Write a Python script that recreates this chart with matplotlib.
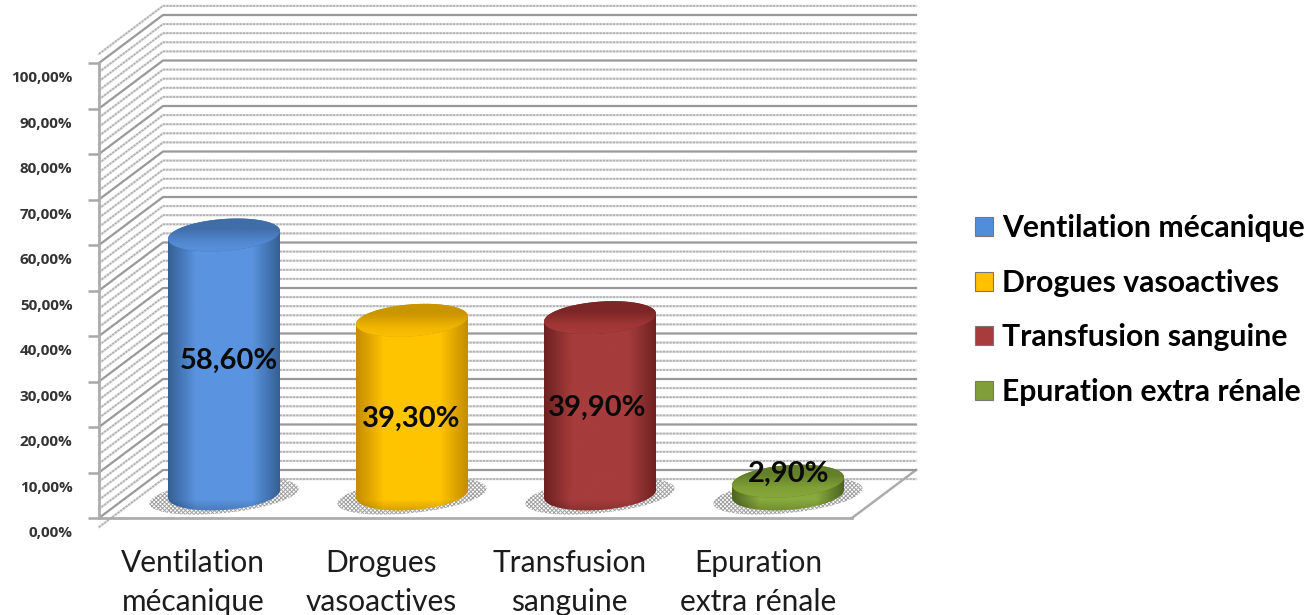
import numpy as np
import matplotlib
matplotlib.use("Agg")
import matplotlib.pyplot as plt
from matplotlib.patches import Polygon, Patch
from matplotlib.ticker import MultipleLocator, FuncFormatter
from matplotlib.transforms import ScaledTranslation

categories = ["Ventilation\nmécanique", "Drogues\nvasoactives", "Transfusion\nsanguine", "Epuration\nextra rénale"]
legend_names = ["Ventilation mécanique", "Drogues vasoactives", "Transfusion sanguine", "Epuration extra rénale"]
values = [58.6, 39.3, 39.9, 2.9]
value_labels = ["58,60%", "39,30%", "39,90%", "2,90%"]

# dark edge, bright centre, top face dark, top face light
colors = [("#345f94", "#5a94e0", "#3f6ea8", "#5288d0"),
          ("#c48c00", "#ffc400", "#c99500", "#f0b400"),
          ("#6e2020", "#a63c3c", "#7c2626", "#a03636"),
          ("#4d6420", "#88aa3e", "#647f2a", "#80a036")]
legend_colors = ["#4f8fd8", "#ffc000", "#a83c3c", "#7f9f3a"]

W, H = 1308, 615
plt.rcParams['font.family'] = ['Lato', 'DejaVu Sans']
plt.rcParams['hatch.linewidth'] = 0.7

fig = plt.figure(figsize=(W / 100, H / 100), dpi=100)
fig.patch.set_facecolor("white")

# front plane of the 3d box
ax = fig.add_axes([99 / W, (H - 518) / H, 753 / W, 455 / H])
ax.patch.set_visible(False)
ax.set_xlim(0, 4)
ax.set_ylim(0, 100)
ax.yaxis.set_major_locator(MultipleLocator(10))
ax.yaxis.set_minor_locator(MultipleLocator(2))
ax.yaxis.set_major_formatter(FuncFormatter(lambda v, p: f"{v:.2f}%".replace(".", ",")))
ax.set_xticks([0.5, 1.5, 2.5, 3.5])
ax.set_xticklabels(categories, fontsize=21.5, color="#1c1c1c", linespacing=1.5)
ax.tick_params(axis="x", length=0, pad=22)
ax.tick_params(axis="y", which="major", length=8, width=1.8, color="#a8a8a8", pad=11, labelcolor="#333333")
ax.tick_params(axis="y", which="minor", length=0)
for lab in ax.get_yticklabels():
    lab.set_family(["Open Sans", "DejaVu Sans"])
    lab.set_fontweight("bold")
    lab.set_fontsize(11)
    lab.set_transform(lab.get_transform() + ScaledTranslation(0, -10 / 72, fig.dpi_scale_trans))
for s in ["top", "right"]:
    ax.spines[s].set_visible(False)
for s in ["left", "bottom"]:
    ax.spines[s].set_color("#acacac")
    ax.spines[s].set_linewidth(2)

# depth of the box, in units of the front plane
dx = 64 / 753 * 4
dy = 48 / 4.55

for v in ax.get_yticks(minor=True):
    ax.plot([0, dx, 4 + dx], [v, v + dy, v + dy], color="#dcdcdc", lw=1.7, clip_on=False, zorder=1)
    ax.plot([0, dx, 4 + dx], [v, v + dy, v + dy], color="#b0b0b0", lw=1.2, ls=(0, (1.2, 0.8)), clip_on=False, zorder=1)
for v in ax.get_yticks():
    if 0 <= v <= 100:
        ax.plot([0, dx, 4 + dx], [v, v + dy, v + dy], color="#999999", lw=1.6, clip_on=False, zorder=1.5)
ax.plot([4, 4 + dx], [0, dy], color="#acacac", lw=1.8, clip_on=False, zorder=1)

# plane through the middle of the box, the columns stand on it
PX_X, PX_Y = 188, 4.42
col = fig.add_axes([130 / W, (H - 494) / H, 4 * PX_X / W, 100 * PX_Y / H])
col.patch.set_visible(False)
col.axis("off")
col.set_xlim(0, 4)
col.set_ylim(0, 100)

RX = 56
RY = 16
TILT = np.tan(np.radians(4))


def gradient(stops):
    pos = np.linspace(0, 1, 256)
    rgb = [matplotlib.colors.to_rgb(c) for c in stops]
    at = np.linspace(0, 1, len(stops))
    return np.stack([np.interp(pos, at, [c[i] for c in rgb]) for i in range(3)], axis=-1)


def clipped_image(g, extent, patch, z):
    im = col.imshow(g, extent=extent, aspect="auto", origin="upper", zorder=z)
    im.set_clip_box(fig.bbox)
    im.set_clip_path(patch)


def ellipse_points(xc, yc, a):
    # sheared ellipse, in data units, rising to the right like the reference
    px = RX * np.cos(a)
    py = RY * np.sin(a) + px * TILT
    return xc + px / PX_X, yc + py / PX_Y


def draw_cylinder(xc, v, cols):
    dark, bright, top_dark, top_light = cols
    rx = RX / PX_X
    ry_d = (RY + RX * TILT) / PX_Y
    a = np.linspace(0, 2 * np.pi, 120)

    # shadow on the floor, a little tilted
    sx, sy = 75 * np.cos(a), 17 * np.sin(a)
    tilt = np.radians(6)
    px = sx * np.cos(tilt) - sy * np.sin(tilt)
    py = sx * np.sin(tilt) + sy * np.cos(tilt)
    col.add_patch(Polygon(np.column_stack([xc + px / PX_X, (py - 2) / PX_Y]), closed=True,
                          facecolor="none", edgecolor="#a0a0a0", hatch="xxxxxxxx", lw=0, zorder=2, clip_on=False))

    # body: top edge, then the lower half of the base ellipse
    xb, yb = ellipse_points(xc, 0, np.linspace(0, -np.pi, 80))
    xs = np.concatenate([[xc - rx, xc + rx], xb])
    ys = np.concatenate([[v - RX * TILT / PX_Y, v + RX * TILT / PX_Y], yb])
    body = Polygon(np.column_stack([xs, ys]), closed=True, facecolor="none", edgecolor="none", zorder=3, clip_on=False)
    col.add_patch(body)
    g = gradient([dark, bright, bright, bright, dark])[np.newaxis, :, :]
    # darker rim along the bottom of the column
    ylo, yhi = -ry_d, v + ry_d
    rows = np.linspace(yhi, ylo, 300)
    shade = np.clip((rows - ylo) * PX_Y / 14, 0, 1) * 0.22 + 0.78
    g = np.repeat(g, 300, axis=0) * shade[:, np.newaxis, np.newaxis]
    clipped_image(g, [xc - rx, xc + rx, ylo, yhi], body, 3)

    # top face
    fx, fy = ellipse_points(xc, v, a)
    face = Polygon(np.column_stack([fx, fy]), closed=True, facecolor=top_dark, edgecolor="none", zorder=4, clip_on=False)
    col.add_patch(face)
    g2 = gradient([top_dark, top_dark, top_light, bright])[:, np.newaxis, :]
    clipped_image(g2, [xc - rx, xc + rx, v - ry_d, v + ry_d], face, 4)


for i, v in enumerate(values):
    draw_cylinder(i + 0.5, v, colors[i])
col.set_xlim(0, 4)
col.set_ylim(0, 100)

label_nudge = [(5, 4), (-1, -12), (-3, -2), (1, 14)]
for i, v in enumerate(values):
    col.annotate(value_labels[i], (i + 0.5, v / 2), xytext=label_nudge[i], textcoords="offset pixels",
                 ha="center", va="center", fontsize=21, fontweight="bold", color="#0a0a0a", zorder=6,
                 annotation_clip=False)

handles = [Patch(facecolor=c, edgecolor="#777777", lw=0.8) for c in legend_colors]
fig.legend(handles, legend_names, loc="center left", bbox_to_anchor=(975 / W, 1 - 310 / H),
           frameon=False, handlelength=0.6, handleheight=0.6, handletextpad=0.3,
           labelspacing=0.88, borderaxespad=0, borderpad=0, prop={"weight": "bold", "size": 21.7})

fig.savefig("out.png", dpi=100)
